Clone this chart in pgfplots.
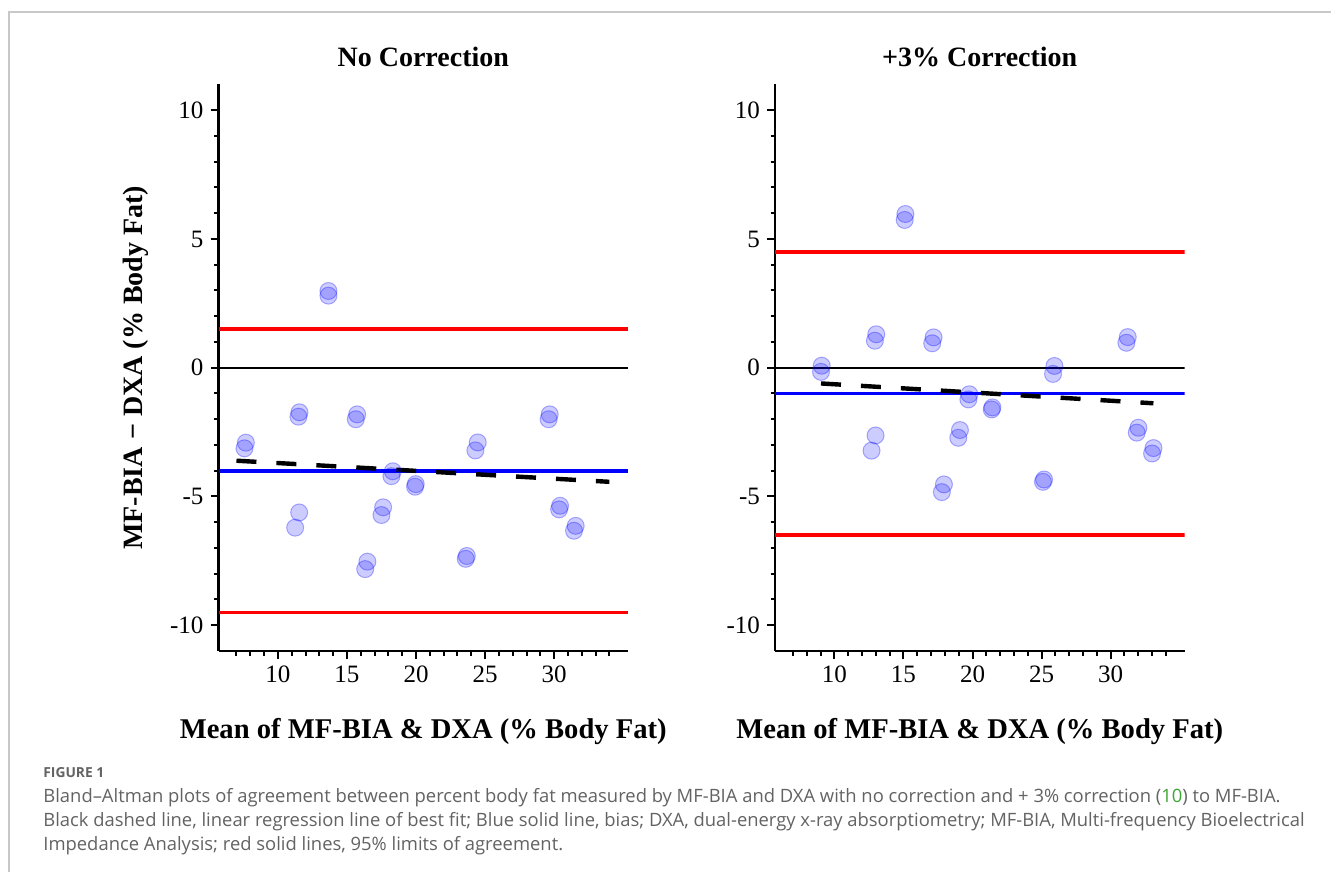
\documentclass[border=0pt]{standalone}
\usepackage{fontspec}
\setmainfont{Liberation Serif}
\newfontfamily\capfont{Open Sans}
\usepackage{pgfplots}
\pgfplotsset{compat=1.18}
\definecolor{capgray}{HTML}{636363}
\definecolor{citegreen}{HTML}{3FA535}
\definecolor{framegray}{HTML}{C8C8C8}
\pgfplotsset{ba/.style={
  scale only axis, width=204.75pt, height=283.25pt,
  xmin=5.7, xmax=35.35, ymin=-11, ymax=11,
  axis x line*=bottom, axis y line*=left,
  axis line style={line width=1.2pt, -},
  tick align=outside,
  xtick={10,15,20,25,30}, xticklabels={10,15,20,25,30},
  ytick={-10,-5,0,5,10}, yticklabels={-10,-5,0,5,10},
  minor xtick={7,...,34}, minor ytick={-10,...,10},
  major tick length=4pt, minor tick length=2.25pt,
  every tick/.style={black, line width=1pt},
  tick label style={font=\fontsize{12.5}{14}\selectfont},
  title style={at={(0.5,1.0106)}, anchor=base, font=\bfseries\fontsize{14}{16}\selectfont},
  xlabel style={at={(0.5,-0.1553)}, anchor=base, font=\bfseries\fontsize{14.3}{16}\selectfont},
  ylabel style={at={(-0.1844,0.5)}, anchor=base, font=\bfseries\fontsize{14}{16}\selectfont},
  pts/.style={only marks, mark=*, mark size=4.25pt, mark options={fill=blue, fill opacity=0.2, draw=blue, draw opacity=0.3, line width=0.5pt}},
}}
\begin{document}
\begin{tikzpicture}
\useasboundingbox (0,0) rectangle (665.5pt,436pt);
\fill[white] (0,0) rectangle (665.5pt,436pt);
\draw[framegray, line width=0.8pt] (4.5pt,0) -- (4.5pt,430pt) -- (665.5pt,430pt);

\begin{axis}[ba, at={(109.25pt,110.5pt)}, anchor=south west,
  title={No Correction},
  xlabel={Mean of MF-BIA \& DXA (\% Body Fat)},
  ylabel={MF-BIA \symbol{"2212} DXA (\% Body Fat)}]
\addplot[black, line width=1.2pt] coordinates {(5.7,0) (35.35,0)};
\addplot[red, line width=1.8pt] coordinates {(5.7,1.5) (35.35,1.5)};
\addplot[red, line width=1.8pt] coordinates {(5.7,-9.5) (35.35,-9.5)};
\addplot[blue, line width=1.8pt] coordinates {(5.7,-4.0) (35.35,-4.0)};
\addplot[black, line width=2.2pt, dash pattern=on 10pt off 10pt] coordinates {(7.0,-3.61) (34.0,-4.43)};
\addplot[pts] coordinates {
(13.66,2.98) (13.66,2.80)
(7.68,-2.91) (7.58,-3.13)
(11.56,-1.73) (11.49,-1.90)
(11.54,-5.62) (11.25,-6.21)
(15.74,-1.81) (15.64,-2.00)
(16.48,-7.53) (16.32,-7.82)
(17.62,-5.42) (17.50,-5.72)
(18.32,-4.02) (18.22,-4.21)
(19.98,-4.52) (19.93,-4.62)
(23.68,-7.31) (23.60,-7.42)
(24.47,-2.90) (24.30,-3.21)
(29.68,-1.81) (29.60,-2.00)
(30.43,-5.36) (30.36,-5.50)
(31.56,-6.14) (31.44,-6.33)
};
\end{axis}

\begin{axis}[ba, at={(387.5pt,110.5pt)}, anchor=south west,
  title={+3\% Correction},
  xlabel={Mean of MF-BIA \& DXA (\% Body Fat)}]
\addplot[black, line width=1.2pt] coordinates {(5.7,0) (35.35,0)};
\addplot[red, line width=1.8pt] coordinates {(5.7,4.5) (35.35,4.5)};
\addplot[red, line width=1.8pt] coordinates {(5.7,-6.5) (35.35,-6.5)};
\addplot[blue, line width=1.8pt] coordinates {(5.7,-1.0) (35.35,-1.0)};
\addplot[black, line width=2.2pt, dash pattern=on 10pt off 10pt] coordinates {(9.03,-0.61) (33.1,-1.38)};
\addplot[pts] coordinates {
(9.08,0.08) (9.03,-0.16)
(13.03,1.30) (12.93,1.05)
(15.14,5.97) (15.09,5.74)
(17.18,1.18) (17.08,0.95)
(25.93,0.07) (25.83,-0.24)
(31.24,1.19) (31.14,0.97)
(19.77,-1.03) (19.70,-1.23)
(21.44,-1.54) (21.39,-1.62)
(12.98,-2.63) (12.69,-3.22)
(19.09,-2.42) (18.97,-2.72)
(17.93,-4.53) (17.78,-4.83)
(25.18,-4.34) (25.10,-4.43)
(32.01,-2.33) (31.89,-2.52)
(33.10,-3.12) (33.00,-3.33)
};
\end{axis}

\node[anchor=base west, inner sep=0, text=capgray, font=\capfont\bfseries\fontsize{6.9}{8}\selectfont] at (21.5pt,47.5pt) {FIGURE 1};
\begin{scope}[every node/.style={anchor=base west, inner sep=0, text=capgray, font=\capfont\fontsize{9.2}{11}\selectfont}]
\node at (21.5pt,35pt) {Bland–Altman plots of agreement between percent body fat measured by MF-BIA and DXA with no correction and + 3\% correction ({\color{citegreen}10}) to MF-BIA.};
\node at (21.5pt,23pt) {Black dashed line, linear regression line of best fit; Blue solid line, bias; DXA, dual-energy x-ray absorptiometry; MF-BIA, Multi-frequency Bioelectrical};
\node at (21.5pt,11pt) {Impedance Analysis; red solid lines, 95\% limits of agreement.};
\end{scope}
\end{tikzpicture}
\end{document}
